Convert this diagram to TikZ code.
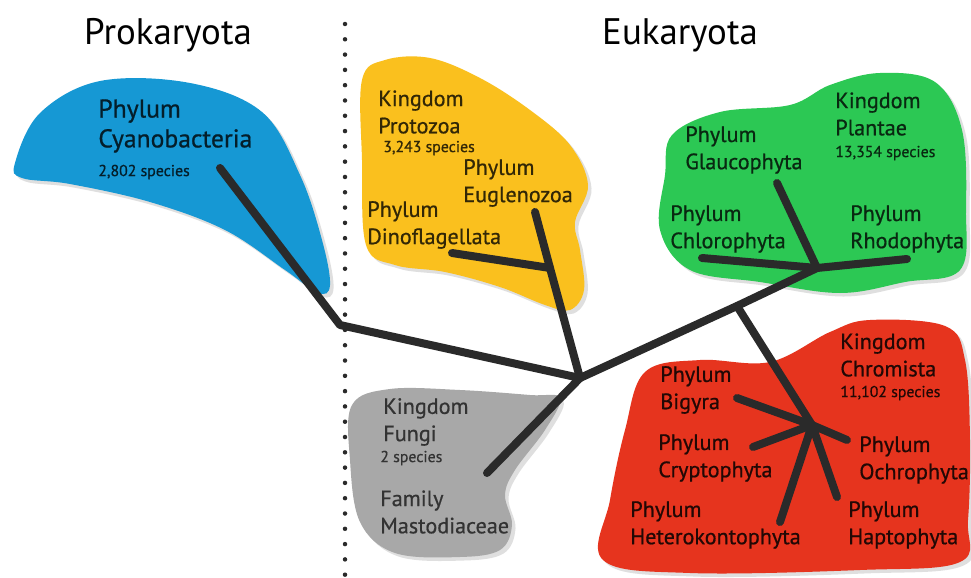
\documentclass[tikz,border=0pt]{standalone}
\usepackage{fontspec}
\setmainfont{PT Sans}
\newfontfamily\taxfont{PT Sans}[RawFeature={embolden=0.7}]
\usetikzlibrary{shadows}
\definecolor{cyanblob}{RGB}{22,152,212}
\definecolor{protoblob}{RGB}{250,192,30}
\definecolor{plantblob}{RGB}{44,200,84}
\definecolor{fungiblob}{RGB}{168,168,168}
\definecolor{chromblob}{RGB}{230,52,30}
\definecolor{branch}{RGB}{42,42,42}
\begin{document}
\begin{tikzpicture}[x=0.02cm, y=-0.02cm,
  blob/.style={drop shadow={shadow xshift=2pt, shadow yshift=-2pt, opacity=0.25}},
  branchline/.style={draw=branch, line width=0.16cm, line cap=round, line join=round},
  taxon/.style={anchor=west, align=left, inner sep=0pt, font=\taxfont\fontsize{12.6}{15.5}\selectfont},
  speciescount/.style={anchor=west, inner sep=0pt, font=\taxfont\fontsize{9}{10}\selectfont},
  domaintitle/.style={inner sep=0pt, font=\fontsize{21}{25}\selectfont}]
\useasboundingbox[fill=white] (0,0) rectangle (971,578);
\fill[cyanblob, blob] plot[smooth cycle, tension=0.6] coordinates {(15,163) (40,113) (100,81) (190,83) (262,112) (300,175) (322,240) (330,285) (318,293) (285,270) (225,230) (150,202) (70,184) (22,178)};
\fill[protoblob, blob] plot[smooth cycle, tension=0.6] coordinates {(362,80) (385,60) (430,58) (480,78) (530,110) (570,145) (588,185) (575,222) (580,250) (584,290) (570,310) (545,305) (500,287) (445,272) (395,265) (366,245) (362,160)};
\fill[plantblob, blob] plot[smooth cycle, tension=0.6] coordinates {(672,135) (720,112) (790,105) (830,85) (880,73) (935,82) (962,130) (966,210) (960,270) (905,282) (840,293) (760,282) (690,270) (660,230) (665,175)};
\fill[fungiblob, blob] plot[smooth cycle, tension=0.6] coordinates {(352,405) (390,389) (460,390) (530,395) (560,398) (545,430) (515,470) (505,495) (512,525) (500,550) (460,557) (395,553) (360,522) (350,460)};
\fill[chromblob, blob] plot[smooth cycle, tension=0.6] coordinates {(645,372) (700,360) (770,362) (830,332) (870,320) (945,326) (965,360) (970,440) (968,520) (960,562) (860,570) (690,573) (603,560) (610,500) (625,430)};
\coordinate (divtop) at (345,24);
\coordinate (divbot) at (345,578);
\draw[branch, line width=0.09cm, line cap=round, dash pattern=on 0pt off 0.306cm] (divtop) -- (divbot);
\node[domaintitle] (prok) at (168,35) {Prokaryota};
\node[domaintitle] (euk) at (680,35) {Eukaryota};
\coordinate (root) at (340,325);
\coordinate (hub) at (580,378);
\coordinate (cyanoend) at (220,168);
\coordinate (protojoint) at (550,268);
\coordinate (euglenoend) at (535,212);
\coordinate (dinoend) at (452,253);
\coordinate (plantfork) at (737,306);
\coordinate (plantjoint) at (817,268);
\coordinate (glaucoend) at (777,183);
\coordinate (chloroend) at (702,258);
\coordinate (rhodoend) at (907,259);
\coordinate (chromjoint) at (812,425);
\coordinate (bigyraend) at (737,398);
\coordinate (cryptoend) at (753,447);
\coordinate (ochroend) at (847,440);
\coordinate (haptoend) at (837,497);
\coordinate (heteroend) at (780,522);
\coordinate (fungiend) at (487,473);
\draw[branchline] (cyanoend) -- (root) -- (hub);
\draw[branchline] (hub) -- (protojoint) -- (euglenoend);
\draw[branchline] (dinoend) -- (protojoint);
\draw[branchline] (hub) -- (fungiend);
\draw[branchline] (hub) -- (plantfork) -- (plantjoint);
\draw[branchline] (glaucoend) -- (plantjoint);
\draw[branchline] (chloroend) -- (plantjoint) -- (rhodoend);
\draw[branchline] (plantfork) -- (chromjoint);
\draw[branchline] (bigyraend) -- (chromjoint) -- (ochroend);
\draw[branchline] (cryptoend) -- (chromjoint);
\draw[branchline] (haptoend) -- (chromjoint);
\draw[branchline] (heteroend) -- (chromjoint);
\node[taxon, text=cyanblob!20!black, font=\taxfont\fontsize{14.6}{17}\selectfont] (cyano) at (98,126) {Phylum\\Cyanobacteria};
\node[speciescount, text=cyanblob!20!black] (cyanocount) at (98,172) {2,802 species};
\node[taxon, text=protoblob!20!black] (proto) at (378,112) {Kingdom\\Protozoa};
\node[speciescount, text=protoblob!20!black] (protocount) at (383,148) {3,243 species};
\node[taxon, text=protoblob!20!black] (eugleno) at (463,183) {Phylum\\Euglenozoa};
\node[taxon, text=protoblob!20!black] (dino) at (367,225) {Phylum\\Dinoflagellata};
\node[taxon, text=plantblob!20!black] (plant) at (835,114) {Kingdom\\Plantae};
\node[speciescount, text=plantblob!20!black] (plantcount) at (835,153) {13,354 species};
\node[taxon, text=plantblob!20!black] (glauco) at (685,150) {Phylum\\Glaucophyta};
\node[taxon, text=plantblob!20!black] (chloro) at (670,229) {Phylum\\Chlorophyta};
\node[taxon, text=plantblob!20!black] (rhodo) at (850,229) {Phylum\\Rhodophyta};
\node[taxon, text=black!80] (fungi) at (383,422) {Kingdom\\Fungi};
\node[speciescount, text=black!80] (fungicount) at (380,458) {2 species};
\node[taxon, text=black!80] (masto) at (380,512) {Family\\Mastodiaceae};
\node[taxon, text=chromblob!15!black] (chrom) at (840,355) {Kingdom\\Chromista};
\node[speciescount, text=chromblob!15!black] (chromcount) at (840,393) {11,102 species};
\node[taxon, text=chromblob!15!black] (bigyra) at (660,390) {Phylum\\Bigyra};
\node[taxon, text=chromblob!15!black] (crypto) at (658,458) {Phylum\\Cryptophyta};
\node[taxon, text=chromblob!15!black] (ochro) at (859,460) {Phylum\\Ochrophyta};
\node[taxon, text=chromblob!15!black] (hetero) at (630,525) {Phylum\\Heterokontophyta};
\node[taxon, text=chromblob!15!black] (hapto) at (848,525) {Phylum\\Haptophyta};
\end{tikzpicture}
\end{document}
